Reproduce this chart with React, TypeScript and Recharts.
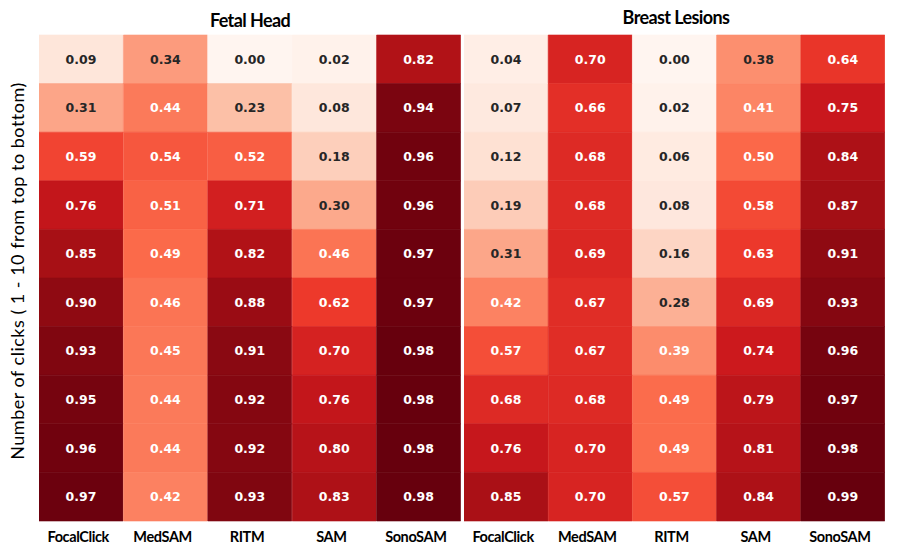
import { Bar, BarChart, Cell, LabelList, XAxis, YAxis } from 'recharts';

const MODELS = ['FocalClick', 'MedSAM', 'RITM', 'SAM', 'SonoSAM'];

// rows = click 1..10, columns = MODELS
const FETAL_HEAD = [
  [0.09, 0.34, 0.0, 0.02, 0.82],
  [0.31, 0.44, 0.23, 0.08, 0.94],
  [0.59, 0.54, 0.52, 0.18, 0.96],
  [0.76, 0.51, 0.71, 0.3, 0.96],
  [0.85, 0.49, 0.82, 0.46, 0.97],
  [0.9, 0.46, 0.88, 0.62, 0.97],
  [0.93, 0.45, 0.91, 0.7, 0.98],
  [0.95, 0.44, 0.92, 0.76, 0.98],
  [0.96, 0.44, 0.92, 0.8, 0.98],
  [0.97, 0.42, 0.93, 0.83, 0.98],
];

const BREAST_LESIONS = [
  [0.04, 0.7, 0.0, 0.38, 0.64],
  [0.07, 0.66, 0.02, 0.41, 0.75],
  [0.12, 0.68, 0.06, 0.5, 0.84],
  [0.19, 0.68, 0.08, 0.58, 0.87],
  [0.31, 0.69, 0.16, 0.63, 0.91],
  [0.42, 0.67, 0.28, 0.69, 0.93],
  [0.57, 0.67, 0.39, 0.74, 0.96],
  [0.68, 0.68, 0.49, 0.79, 0.97],
  [0.76, 0.7, 0.49, 0.81, 0.98],
  [0.85, 0.7, 0.57, 0.84, 0.99],
];

const CLICKS = FETAL_HEAD.map((_, i) => i);

// matplotlib "Reds"
const REDS = ['#fff5f0', '#fee0d2', '#fcbba1', '#fc9272', '#fb6a4a', '#ef3b2c', '#cb181d', '#a50f15', '#67000d'];

const hex = (h: string) => [1, 3, 5].map((i) => parseInt(h.slice(i, i + 2), 16));

function reds(t: number): number[] {
  const p = Math.min(1, Math.max(0, t)) * (REDS.length - 1);
  const i = Math.min(REDS.length - 2, Math.floor(p));
  const f = p - i;
  const a = hex(REDS[i]);
  const b = hex(REDS[i + 1]);
  return a.map((c, k) => Math.round(c + (b[k] - c) * f));
}

function lum(rgb: number[]) {
  const [r, g, b] = rgb.map((c) => {
    const s = c / 255;
    return s <= 0.03928 ? s / 12.92 : Math.pow((s + 0.055) / 1.055, 2.4);
  });
  return 0.2126 * r + 0.7152 * g + 0.0722 * b;
}

function Heatmap({ values, left, width }: { values: number[][]; left: number; width: number }) {
  const flat = values.flat();
  const vmin = Math.min(...flat);
  const vmax = Math.max(...flat);
  const color = (v: number) => reds((v - vmin) / (vmax - vmin));

  const data = MODELS.map((model, m) => {
    const row: Record<string, number | string> = { model };
    CLICKS.forEach((c) => {
      row[`s${c}`] = 1;
      row[`v${c}`] = values[c][m];
    });
    return row;
  });

  const renderLabel = (props: any) => {
    const { x, y, width: w, height: h, value } = props;
    const rgb = color(value);
    return (
      <text
        x={x + w / 2}
        y={y + h / 2}
        dy="0.36em"
        textAnchor="middle"
        fontFamily="DejaVu Sans"
        fontWeight="bold"
        fontSize={12.5}
        fill={lum(rgb) > 0.408 ? '#262626' : '#ffffff'}
      >
        {value.toFixed(2)}
      </text>
    );
  };

  const renderTick = (props: any) => {
    const { x, y, payload } = props;
    return (
      <text
        x={x - 3}
        y={y + 13}
        textAnchor="middle"
        fontFamily="Lato"
        fontWeight="bold"
        fontSize={14.5}
        letterSpacing={-0.4}
        fill="#000"
      >
        {payload.value}
      </text>
    );
  };

  return (
    <div style={{ position: 'absolute', left, top: 0 }}>
      <BarChart
        width={width}
        height={560}
        data={data}
        margin={{ top: 35, right: 0, left: 0, bottom: 9 }}
        barCategoryGap={0}
        barGap={0}
      >
        <XAxis dataKey="model" height={30} axisLine={false} tickLine={false} tick={renderTick} interval={0} />
        <YAxis hide type="number" domain={[0, 10]} reversed />
        {CLICKS.map((c) => (
          <Bar key={c} dataKey={`s${c}`} stackId="a" isAnimationActive={false}>
            {MODELS.map((_, m) => {
              const [r, g, b] = color(values[c][m]);
              const fill = `rgb(${r},${g},${b})`;
              return <Cell key={m} fill={fill} stroke={fill} strokeWidth={0.6} />;
            })}
            <LabelList dataKey={`v${c}`} content={renderLabel} />
          </Bar>
        ))}
      </BarChart>
    </div>
  );
}

export default function App() {
  return (
    <div style={{ position: 'absolute', left: 0, top: 0, width: 897, height: 560, background: '#fff' }}>
      <Heatmap values={FETAL_HEAD} left={39} width={422} />
      <Heatmap values={BREAST_LESIONS} left={464} width={421} />
      <svg width={897} height={560} style={{ position: 'absolute', left: 0, top: 0, pointerEvents: 'none' }}>
        <text x={250} y={27} textAnchor="middle" fontFamily="Lato" fontWeight="bold" fontSize={18} letterSpacing={-0.6}>
          Fetal Head
        </text>
        <text x={676} y={24} textAnchor="middle" fontFamily="Lato" fontWeight="bold" fontSize={18} letterSpacing={-0.6}>
          Breast Lesions
        </text>
        <text
          transform="translate(24,271) rotate(-90)"
          textAnchor="middle"
          fontFamily="Lato"
          fontSize={18}
          letterSpacing={0.5}
        >
          Number of clicks ( 1 - 10 from top to bottom)
        </text>
      </svg>
    </div>
  );
}
